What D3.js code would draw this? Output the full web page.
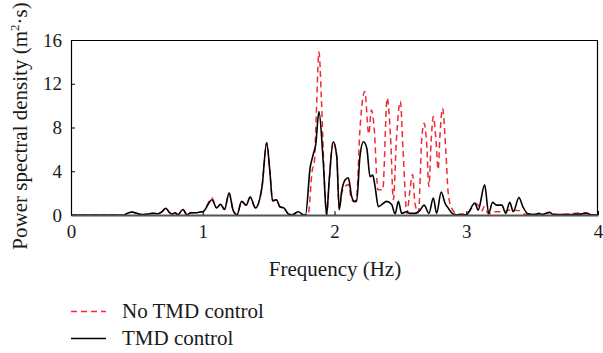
<!DOCTYPE html>
<html>
<head>
<meta charset="utf-8">
<script src="https://cdn.jsdelivr.net/npm/d3@7"></script>
</head>
<body style="margin:0;padding:0;background:#fff">
<svg id="chart" width="603" height="353" style="display:block"></svg>
<script>
// ---- data ----
const xTicks = [0, 1, 2, 3, 4];
const yTicks = [0, 4, 8, 12, 16];
const seriesNames = ["No TMD control", "TMD control"];

const freqTMD = [0, 0.40, 0.43, 0.46, 0.50, 0.54, 0.58, 0.62, 0.66, 0.69, 0.72, 0.745, 0.77, 0.79, 0.81, 0.85, 0.88, 0.91, 0.95, 0.99,
  1.00, 1.07, 1.105, 1.135, 1.165, 1.20, 1.23, 1.26, 1.295, 1.33, 1.36, 1.40, 1.45, 1.485, 1.51, 1.53, 1.56, 1.585, 1.615, 1.65,
  1.68, 1.725, 1.765, 1.78, 1.815, 1.84, 1.857, 1.882, 1.915, 1.94, 1.96, 1.99, 2.017, 2.036, 2.055, 2.08, 2.105, 2.13, 2.15, 2.168,
  2.193, 2.22, 2.245, 2.27, 2.29, 2.308, 2.333, 2.358, 2.396, 2.434, 2.46, 2.485, 2.51, 2.548, 2.573, 2.611, 2.65, 2.68, 2.717, 2.75,
  2.775, 2.81, 2.84, 2.865, 2.90, 2.95, 3.00, 3.066, 3.09, 3.14, 3.17, 3.20, 3.23, 3.27, 3.30, 3.33, 3.357, 3.40, 3.43, 3.47,
  3.52, 3.55, 3.58, 3.63, 3.66, 3.80, 3.88, 3.91, 3.95, 4.0];
const psdTMD = [0, 0, 0.15, 0.28, 0.15, 0.03, 0.08, 0.15, 0.12, 0.3, 0.62, 0.25, 0.08, 0.2, 0.03, 0.5, 0.02, 0.2, 0.2, 0.3,
  0.3, 1.4, 0.65, 0.97, 0.5, 2.0, 0.45, 0.02, 1.25, 0.9, 1.65, 0.65, 2.6, 6.6, 3.9, 1.3, 1.4, 0.75, 0.65, 0.1,
  0.02, 0.3, 0.02, 0.02, 4.3, 5.6, 6.4, 9.45, 4.75, 0.02, 3.2, 6.7, 5.35, 0.5, 2.2, 3.2, 3.4, 1.7, 1.25, 1.25,
  5.35, 6.7, 6.1, 3.5, 3.65, 2.6, 0.75, 0.95, 1.25, 0.95, 0.1, 1.25, 0.15, 0.3, 0.15, 0.15, 0.45, 0.9, 0.15, 1.55,
  0.15, 2.1, 1.05, 0.6, 0.1, 0.02, 0.02, 1.1, 0.45, 2.75, 0.15, 1.15, 0.9, 0.9, 0.15, 1.15, 0.3, 1.6, 0.75, 0.1,
  0.05, 0.15, 0.05, 0.25, 0.05, 0.03, 0.1, 0.15, 0.03, 0];

const freqNoTMD = [0, 0.40, 0.43, 0.46, 0.50, 0.54, 0.58, 0.62, 0.66, 0.69, 0.72, 0.745, 0.77, 0.79, 0.81, 0.85, 0.88, 0.91, 0.95, 0.99,
  1.00, 1.07, 1.105, 1.135, 1.165, 1.20, 1.23, 1.26, 1.295, 1.33, 1.36, 1.40, 1.45, 1.485, 1.51, 1.53, 1.56, 1.585, 1.615, 1.65,
  1.68, 1.725, 1.765, 1.80, 1.83, 1.848, 1.862, 1.882, 1.90, 1.92, 1.94, 1.96, 1.99, 2.017, 2.036, 2.055, 2.08, 2.105, 2.13, 2.15,
  2.168, 2.193, 2.23, 2.26, 2.28, 2.30, 2.33, 2.366, 2.40, 2.425, 2.447, 2.47, 2.50, 2.52, 2.55, 2.57, 2.593, 2.61, 2.637, 2.662,
  2.68, 2.699, 2.717, 2.733, 2.75, 2.77, 2.787, 2.80, 2.82, 2.846, 2.863, 2.89, 2.93, 2.98, 3.02, 3.05, 3.08, 3.10, 3.12, 3.135,
  3.17, 3.20, 3.24, 3.28, 3.33, 3.40, 3.44, 3.50, 3.63, 3.70, 3.91, 3.95, 4.0];
const psdNoTMD = [0, 0, 0.15, 0.28, 0.15, 0.03, 0.08, 0.15, 0.12, 0.3, 0.62, 0.25, 0.08, 0.2, 0.03, 0.5, 0.02, 0.2, 0.2, 0.3,
  0.3, 1.55, 0.65, 0.97, 0.5, 2.0, 0.45, 0.02, 1.25, 0.9, 1.65, 0.65, 2.6, 6.6, 3.9, 1.3, 1.4, 0.75, 0.65, 0.1,
  0.02, 0.3, 0.02, 0.02, 4.0, 5.0, 9.3, 14.9, 10.8, 4.2, 0.02, 3.2, 6.7, 5.35, 0.5, 2.0, 2.6, 2.8, 1.4, 1.2,
  1.7, 7.8, 11.3, 7.4, 9.6, 8.1, 2.3, 2.3, 10.7, 7.2, 1.4, 6.9, 10.4, 6.0, 0.15, 2.0, 3.7, 1.1, 0.2, 6.9,
  8.4, 6.6, 2.6, 6.6, 9.0, 6.9, 4.15, 7.2, 9.75, 5.65, 2.0, 0.6, 0.1, 0.1, 0.3, 0.75, 1.0, 0.75, 0.4, 0.75,
  0.1, 0.3, 0.3, 0.3, 0.45, 0.4, 0.1, 0.05, 0.15, 0.05, 0.2, 0.05, 0];

// ---- layout ----
const FONT = "'Liberation Serif', 'Times New Roman', Times, serif";
const TXT = "#1a1a1a";
const svg = d3.select("#chart");
const mLeft = 71, mRight = 598, mTop = 40, mBottom = 215;

const x = d3.scaleLinear().domain([0, 4]).range([mLeft, mRight]);
const y = d3.scaleLinear().domain([0, 16]).range([mBottom, mTop]);

svg.append("defs").append("clipPath").attr("id", "clip")
  .append("rect").attr("x", mLeft).attr("y", mTop - 2).attr("width", mRight - mLeft).attr("height", mBottom - mTop + 2);

const line = d3.line()
  .x(d => x(d[0])).y(d => y(d[1]))
  .curve(d3.curveMonotoneX);

const noData = freqNoTMD.map((f, i) => [f, psdNoTMD[i]]);
const tmdData = freqTMD.map((f, i) => [f, psdTMD[i]]);

const redColor = "#ee2b36";

svg.append("path").datum(noData)
  .attr("clip-path", "url(#clip)")
  .attr("d", line).attr("fill", "none")
  .attr("stroke", redColor).attr("stroke-width", 1.5)
  .attr("stroke-dasharray", "6,4");

svg.append("path").datum(tmdData)
  .attr("clip-path", "url(#clip)")
  .attr("d", line).attr("fill", "none")
  .attr("stroke", "#000").attr("stroke-width", 1.6);

// frame: top and right
svg.append("line").attr("x1", mLeft).attr("x2", mRight).attr("y1", mTop + 0.5).attr("y2", mTop + 0.5)
  .attr("stroke", "#000").attr("stroke-width", 1.2);
svg.append("line").attr("x1", mRight - 0.5).attr("x2", mRight - 0.5).attr("y1", mTop).attr("y2", mBottom)
  .attr("stroke", "#000").attr("stroke-width", 1.2);

function styleText(sel, size) {
  sel.style("font-family", FONT).style("font-size", size + "px").style("fill", TXT);
}

// y axis (ticks inward)
const yAxis = d3.axisLeft(y).tickValues(yTicks).tickSize(-4).tickPadding(9).tickSizeOuter(0);
const gy = svg.append("g").attr("transform", `translate(${mLeft},0)`).call(yAxis);
gy.attr("font-family", null).attr("font-size", null);
gy.select(".domain").attr("stroke", "#000").attr("stroke-width", 1.2);
gy.selectAll(".tick line").attr("stroke", "#000");
styleText(gy.selectAll("text"), 19);

// x axis (ticks inward), grey thick baseline
const xAxis = d3.axisBottom(x).tickValues(xTicks).tickSize(-4).tickPadding(10).tickSizeOuter(0).tickFormat(d3.format("d"));
const gx = svg.append("g").attr("transform", `translate(0,${mBottom})`).call(xAxis);
gx.attr("font-family", null).attr("font-size", null);
gx.select(".domain").attr("stroke", "#555").attr("stroke-width", 2.2);
gx.selectAll(".tick line").attr("stroke", "#000");
styleText(gx.selectAll("text"), 19);
gx.selectAll("text").attr("dy", "0.71em");

// axis titles
const xt = svg.append("text").attr("x", 335).attr("y", 276).attr("text-anchor", "middle").text("Frequency (Hz)");
styleText(xt, 21);

const yt = svg.append("text").attr("transform", "translate(27,126) rotate(-90)")
  .attr("text-anchor", "middle");
styleText(yt, 21);
yt.append("tspan").text("Power spectral density (m");
yt.append("tspan").style("font-size", "13px").attr("dy", -8).text("2");
yt.append("tspan").attr("dy", 8).text("·s)");

// legend
const leg = svg.append("g");
const legItems = [
  { name: seriesNames[0], color: redColor, dash: "6,4", y: 311.5 },
  { name: seriesNames[1], color: "#000", dash: null, y: 338.5 }
];
legItems.forEach(it => {
  leg.append("line").attr("x1", 71).attr("x2", 106).attr("y1", it.y).attr("y2", it.y)
    .attr("stroke", it.color).attr("stroke-width", 1.5)
    .attr("stroke-dasharray", it.dash);
  const t = leg.append("text").attr("x", 122).attr("y", it.y + 6.5).text(it.name);
  styleText(t, 21);
});
</script>
</body>
</html>
